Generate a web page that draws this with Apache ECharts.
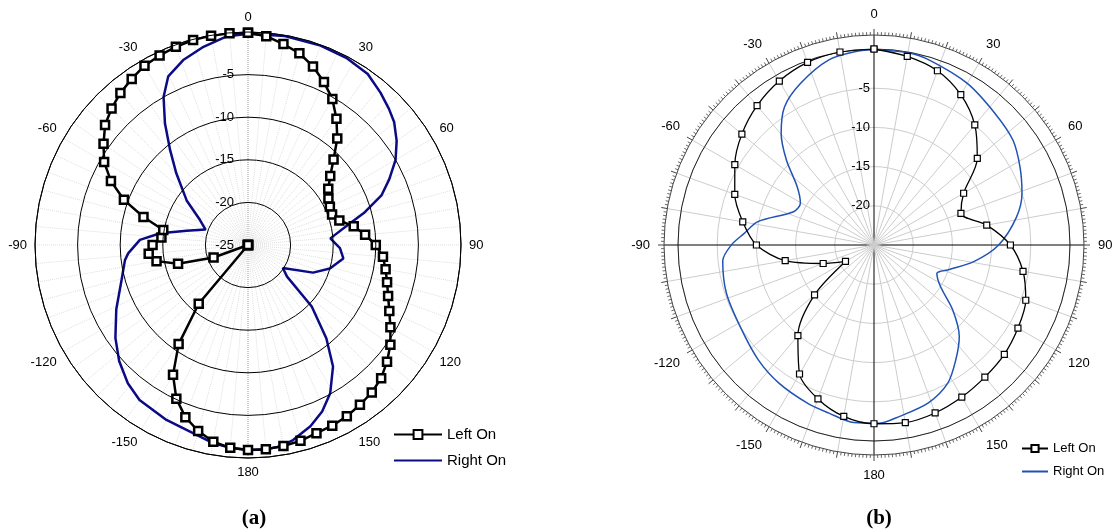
<!DOCTYPE html>
<html>
<head>
<meta charset="utf-8">
<script src="https://cdn.jsdelivr.net/npm/echarts@6/dist/echarts.min.js"></script>
<style>
  html, body { margin: 0; padding: 0; background: #fff; }
  #chartA { position: absolute; left: 0; top: 0; width: 557px; height: 531px; }
  #chartB { position: absolute; left: 557px; top: 0; width: 558px; height: 531px; }
</style>
</head>
<body>
<div id="chartA"></div>
<div id="chartB"></div>
<script>
// (a) Left On: markers every 5 deg
var leftOnAAngles = [0,5,10,15,20,25,30,35,40,45,50,55,60,65,70,75,80,85,90,95,
  100,105,110,115,120,125,130,135,140,145,150,155,160,165,170,175,180,185,190,195,
  200,205,210,215,220,225,230,235,240,245,250,255,260,265,270,275,280,285,290,295,
  300,305,310,315,320,325,330,335,340,345,350,355];
var leftOnADb = [-0.1,-0.4,-1.05,-1.7,-2.7,-3.9,-5.2,-6.9,-8.7,-10.8,-12.4,-13.5,-14.1,-14.4,-14.5,-13.9,-12.4,-11.2,-10.0,-9.1,
  -8.6,-8.1,-7.5,-6.7,-5.7,-4.6,-3.7,-2.9,-2.4,-2.1,-1.8,-1.6,-1.5,-1.2,-1.05,-0.95,-0.95,-1.1,-1.55,-2.4,
  -3.5,-5.1,-7.4,-10.8,-16.0,-25,-25,-25,-25,-25,-20.7,-16.5,-14.1,-13.3,-13.8,-14.8,-14.9,-12.3,-9.5,-7.25,
  -5.5,-4.3,-3.1,-2.35,-1.7,-1.2,-0.7,-0.45,-0.25,-0.1,-0.05,-0.05];

// (a) Right On: traced line, no markers
var rightOnAAngles = [0,10,20,28,35,41,46,50,55,60,65,69.5,74.6,78,85.4,92,98,106,113,123.5,
  129,134,140,145,151,156,161,167,171,175,180,185,190,195,205,215,221,228,235,244,
  254.5,263,266,272.7,277.6,283,290,297.5,306,315,320.6,325.7,330.3,334.7,340.7,347,354];
var rightOnADb = [-0.2,-0.1,-0.1,-0.2,-0.5,-1.3,-2.0,-2.6,-3.7,-5.0,-6.7,-8.25,-10.9,-12.75,-15.3,-14.2,-13.7,-15.0,-16.7,-20.1,
  -19.1,-14.6,-10.7,-7.6,-5.1,-3.6,-2.5,-1.5,-1.05,-0.92,-0.94,-1.1,-1.4,-1.9,-2.35,-2.8,-3.5,-4.65,-6.0,-7.8,
  -9.6,-10.45,-10.9,-12.3,-14.6,-17.6,-19.7,-18.65,-16.1,-13.1,-10.6,-7.7,-5.0,-3.1,-2.0,-1.2,-0.4];

// (b) Left On: markers every 10 deg
var leftOnBAngles = [0,10,20,30,40,50,60,70,80,90,100,110,120,130,140,150,160,170,
  180,190,200,210,220,230,240,250,260,270,280,290,300,310,320,330,340,350];
var leftOnBDb = [0,-0.58,-1.35,-2.86,-5.0,-7.8,-11.8,-13.2,-10.4,-7.6,-5.7,-4.4,-3.8,-3.3,-3.0,-2.6,-2.2,-2.0,
  -2.2,-2.8,-4.1,-6.0,-9.9,-15.1,-20.8,-18.1,-13.5,-10.0,-8.0,-6.1,-4.5,-3.0,-1.8,-0.85,-0.22,0];

// (b) Right On
var rightOnBAngles = [0,10,17,30,42.6,53,62,70.7,79,90,99.5,108,114.3,122,129.5,137,144.6,152,161,171.5,
  178.6,186.5,195,202.7,214.4,225.2,238.5,252,264,270,275,281.4,292.5,299.6,307.2,314.2,320.2,327.1,335.6,346.3,355];
var rightOnBDb = [-0.1,-0.1,-0.4,-1.2,-2.2,-2.8,-3.9,-5.0,-6.5,-9.1,-12.1,-14.9,-16.2,-15.0,-12.0,-9.05,-7.0,-5.0,-3.7,-2.9,
  -2.25,-2.2,-2.8,-3.1,-3.6,-4.2,-5.0,-5.2,-5.6,-6.8,-8.35,-9.9,-13.9,-14.2,-12.7,-9.4,-6.5,-4.0,-2.35,-0.7,-0.2];

var seriesNames = ['Left On', 'Right On'];
var captions = ['(a)', '(b)'];

// build [radius, angle] pairs and close the loop at 360
function toPolar(angles, dbs) {
  var d = angles.map(function (a, i) { return [dbs[i], a]; });
  d.push([dbs[0], 360]);
  return d;
}
function angleLabel(v) {
  if (v % 30 !== 0 || v === 360) return '';
  return v > 180 ? v - 360 : v;
}
var sans = 'Liberation Sans, Arial, sans-serif';
var labelStyle = { color: '#000', fontSize: 13, fontFamily: sans };
// legend entries: plain line for Right On (hide the default dot)
var legendData = [
  { name: seriesNames[0] },
  { name: seriesNames[1], itemStyle: { opacity: 0 } }
];

var chartA = echarts.init(document.getElementById('chartA'));
var chartB = echarts.init(document.getElementById('chartB'));

var optionA = {
  animation: false,
  title: {
    text: captions[0], left: 249, top: 503, textAlign: 'center',
    textStyle: { fontFamily: 'Liberation Serif, Times New Roman, serif', fontWeight: 'bold', fontSize: 21, color: '#000' }
  },
  legend: {
    data: legendData, orient: 'vertical', left: 388, top: 422,
    itemWidth: 48, itemHeight: 11, itemGap: 11,
    textStyle: { fontSize: 15, color: '#000', fontFamily: sans }
  },
  polar: { center: [248, 245], radius: 213 },
  angleAxis: {
    type: 'value', min: 0, max: 360, interval: 30, startAngle: 90, clockwise: true,
    axisLine: { lineStyle: { color: '#000', width: 1 } },
    axisTick: { show: false },
    axisLabel: Object.assign({ margin: 8, align: 'center', verticalAlign: 'middle', formatter: angleLabel }, labelStyle),
    splitLine: { show: true, lineStyle: { color: ['#999', '#ddd', '#ddd', '#ddd', '#ddd', '#ddd'], type: 'dotted', width: 1 } },
    minorTick: { show: false, splitNumber: 6 },
    minorSplitLine: { show: true, lineStyle: { color: '#ddd', type: 'dotted', width: 1 } }
  },
  radiusAxis: {
    type: 'value', min: -25, max: 0, interval: 5,
    axisLine: { show: false },
    axisTick: { show: false },
    axisLabel: Object.assign({ margin: 14, formatter: function (v) { return v === 0 ? '' : v; } }, labelStyle),
    splitLine: { show: true, lineStyle: { color: '#000', width: 1 } },
    z: 5
  },
  series: [
    {
      name: seriesNames[0], type: 'line', coordinateSystem: 'polar',
      data: toPolar(leftOnAAngles, leftOnADb),
      symbol: 'rect', symbolSize: 8, showAllSymbol: true,
      lineStyle: { color: '#000', width: 2.5 },
      itemStyle: { color: '#fff', borderColor: '#000', borderWidth: 2.5 },
      z: 4
    },
    {
      name: seriesNames[1], type: 'line', coordinateSystem: 'polar',
      data: toPolar(rightOnAAngles, rightOnADb),
      symbol: 'none',
      lineStyle: { color: '#0b0b86', width: 2.5 },
      itemStyle: { color: '#0b0b86' },
      z: 3
    }
  ]
};

var optionB = {
  animation: false,
  title: {
    text: captions[1], left: 317, top: 503, textAlign: 'center',
    textStyle: { fontFamily: 'Liberation Serif, Times New Roman, serif', fontWeight: 'bold', fontSize: 21, color: '#000' }
  },
  legend: {
    data: legendData, orient: 'vertical', left: 459, top: 437,
    itemWidth: 26, itemHeight: 9, itemGap: 10,
    textStyle: { fontSize: 13, color: '#000', fontFamily: sans }
  },
  polar: [
    { center: [317, 245], radius: 210 },
    { center: [317, 245], radius: 196 }
  ],
  angleAxis: [
    {
      polarIndex: 0, type: 'value', min: 0, max: 360, interval: 10, startAngle: 90, clockwise: true,
      axisLine: { lineStyle: { color: '#444', width: 1 } },
      axisTick: { show: true, length: 6, lineStyle: { color: '#444', width: 1 } },
      minorTick: { show: true, splitNumber: 10, length: 3, lineStyle: { color: '#666', width: 1 } },
      axisLabel: Object.assign({ margin: 14, align: 'center', verticalAlign: 'middle', formatter: angleLabel }, labelStyle),
      splitLine: { show: true, lineStyle: { color: ['#000', '#ccc', '#ccc', '#ccc', '#ccc', '#ccc', '#ccc', '#ccc', '#ccc'], width: 1 } }
    },
    {
      polarIndex: 1, type: 'value', min: 0, max: 360, interval: 90, startAngle: 90, clockwise: true,
      axisLine: { lineStyle: { color: '#222', width: 1 } },
      axisTick: { show: false },
      axisLabel: { show: false },
      splitLine: { show: false }
    }
  ],
  radiusAxis: [
    { polarIndex: 0, type: 'value', min: -25, max: 0, show: false, splitLine: { show: false } },
    {
      polarIndex: 1, type: 'value', min: -25, max: 0, interval: 5,
      axisLine: { show: false },
      axisTick: { show: false },
      axisLabel: Object.assign({ margin: 4, formatter: function (v) { return (v === 0 || v === -25) ? '' : v; } }, labelStyle),
      splitLine: { show: true, lineStyle: { color: '#ccc', width: 1 } }
    }
  ],
  series: [
    {
      name: seriesNames[0], type: 'line', coordinateSystem: 'polar', polarIndex: 1,
      data: toPolar(leftOnBAngles, leftOnBDb),
      smooth: 0.3,
      symbol: 'rect', symbolSize: 6, showAllSymbol: true,
      lineStyle: { color: '#000', width: 1.3 },
      itemStyle: { color: '#fff', borderColor: '#000', borderWidth: 1.2 },
      z: 4
    },
    {
      name: seriesNames[1], type: 'line', coordinateSystem: 'polar', polarIndex: 1,
      data: toPolar(rightOnBAngles, rightOnBDb),
      smooth: 0.3,
      symbol: 'none',
      lineStyle: { color: '#2153b5', width: 1.5 },
      itemStyle: { color: '#2153b5' },
      z: 3
    }
  ]
};

chartA.setOption(optionA);
chartB.setOption(optionB);
</script>
</body>
</html>
